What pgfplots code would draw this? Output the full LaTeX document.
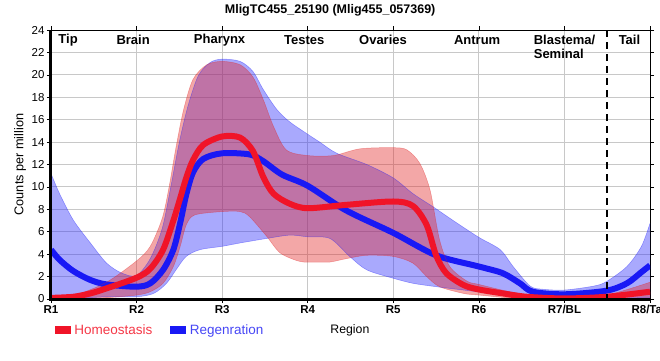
\documentclass[border=0pt]{standalone}
\usepackage{pgfplots}
\pgfplotsset{compat=1.18}
\usepgfplotslibrary{fillbetween}
\usepackage{fontspec}
\setmainfont{Liberation Sans}
\definecolor{hred}{RGB}{240,20,40}
\definecolor{rblue}{RGB}{25,25,245}
\definecolor{bandred}{RGB}{225,35,35}
\definecolor{bandblue}{RGB}{40,40,250}
\definecolor{gridgray}{RGB}{200,200,200}
\definecolor{legred}{RGB}{245,55,70}
\definecolor{legblue}{RGB}{70,70,245}
\begin{document}
\begin{tikzpicture}
\begin{axis}[
  at={(0pt,0pt)}, anchor=south west,
  width=599pt, height=269pt, scale only axis,
  xmin=0, xmax=7, ymin=0, ymax=24,
  clip mode=individual,
  xtick={0,1,2,3,4,5,6,7},
  xticklabels={R1,R2,R3,R4,R5,R6,R7/BL,R8/Tail},
  ytick={0,2,4,6,8,10,12,14,16,18,20,22,24},
  grid=major,
  grid style={gridgray, line width=0.9pt},
  tick align=outside,
  major tick length=4pt,
  tick style={black, line width=0.6pt},
  axis line style={black, line width=0.9pt},
  /pgf/number format/assume math mode=true,
  yticklabel style={font=\fontsize{11.5}{12}\selectfont, xshift=1pt},
  xticklabel style={font=\bfseries\fontsize{11.5}{12}\selectfont, yshift=1pt},
  title={\bfseries MligTC455\_25190 (Mlig455\_057369)},
  every axis title shift=0pt,
  title style={at={(axis description cs:0.466,1)}, anchor=base, yshift=17pt, font=\fontsize{12.5}{14}\selectfont},
  ylabel={Counts per million},
  ylabel style={at={(axis description cs:-0.0518,0.5)}, anchor=center, font=\fontsize{12.7}{14}\selectfont},
  xlabel={Region},
  xlabel style={at={(axis description cs:0.499,-0.1152)}, anchor=center, font=\fontsize{12.3}{14}\selectfont},
  legend columns=2,
  legend style={at={(axis description cs:0.0067,-0.1152)}, anchor=west, draw=none, fill=none,
    inner sep=0pt, outer sep=0pt, font=\fontsize{13.5}{15}\selectfont,
    nodes={inner sep=0pt, outer sep=0pt},
    /tikz/every odd column/.append style={column sep=4pt},
    /tikz/every even column/.append style={column sep=18pt}},
  legend image code/.code={\fill[#1] (0pt,-3.5pt) rectangle (15pt,3.5pt);},
]
% ---------- Regeneration band ----------
\addplot[name path=bu, draw=bandblue, draw opacity=0.45, line width=0.5pt, smooth, forget plot] coordinates {
(0,11.2) (0.1,9.4) (0.26,7.05) (0.46,5.0) (0.65,3.2) (0.83,2.3) (1.0,2.1) (1.16,3.6) (1.3,6.3) (1.4,10.0) (1.5,14.0) (1.6,17.2) (1.72,19.9) (1.86,21.1) (2.0,21.4) (2.21,21.2) (2.36,20.3) (2.48,18.7) (2.64,16.9) (2.79,15.8) (3.0,14.7) (3.14,14.0) (3.34,13.0) (3.69,12.0) (4.0,10.8) (4.23,9.4) (4.47,8.2) (4.72,6.9) (5.0,5.5) (5.25,4.4) (5.4,2.9) (5.6,1.15) (5.75,0.87) (6.0,0.8) (6.34,1.15) (6.49,1.55) (6.73,2.9) (6.9,4.7) (7.0,6.75)};
\addplot[name path=bl, draw=bandblue, draw opacity=0.45, line width=0.5pt, smooth, forget plot] coordinates {
(0,0) (0.3,0.05) (0.65,0.2) (1.0,0.2) (1.2,0.5) (1.35,1.4) (1.47,2.7) (1.58,3.8) (1.74,4.4) (2.0,4.7) (2.21,5.0) (2.52,5.4) (2.79,5.7) (3.0,5.55) (3.26,5.4) (3.49,3.8) (3.69,2.6) (4.0,1.85) (4.23,1.4) (4.5,1.1) (4.82,0.8) (5.0,0.65) (5.5,0.35) (6.0,0.2) (6.5,0.2) (7.0,0.1)};
\addplot[bandblue, fill opacity=0.4, draw=none, forget plot] fill between[of=bu and bl];
% ---------- Regeneration mean ----------
\addplot[rblue, line width=6pt, smooth, forget plot] coordinates {
(0,4.4) (0.1,3.5) (0.26,2.5) (0.46,1.7) (0.65,1.3) (1.0,1.1) (1.16,1.4) (1.31,2.6) (1.43,4.4) (1.51,6.8) (1.58,9.3) (1.66,11.3) (1.78,12.5) (2.0,13.0) (2.32,12.9) (2.48,12.3) (2.7,11.1) (3.0,10.1) (3.45,7.9) (4.0,5.9) (4.5,3.9) (5.0,2.9) (5.28,2.3) (5.48,1.4) (5.63,0.65) (6.0,0.42) (6.49,0.74) (6.73,1.4) (6.9,2.4) (7.0,3.0)};
% ---------- Homeostasis band ----------
\addplot[name path=ru, draw=bandred, draw opacity=0.4, line width=0.5pt, smooth, forget plot] coordinates {
(0,0.1) (0.3,0.4) (0.65,1.5) (1.0,3.4) (1.16,4.7) (1.3,7.2) (1.38,10.0) (1.46,13.5) (1.55,16.9) (1.66,19.6) (1.82,20.9) (2.0,21.2) (2.21,20.9) (2.36,19.8) (2.48,17.8) (2.6,15.4) (2.75,13.3) (3.0,12.8) (3.3,12.8) (3.61,13.4) (4.0,13.5) (4.16,13.3) (4.31,12.1) (4.43,9.7) (4.54,5.3) (4.66,2.9) (4.86,1.6) (5.0,1.3) (5.36,0.65) (5.75,0.2) (6.0,0.15) (6.49,0.35) (7.0,1.5)};
\addplot[name path=rl, draw=bandred, draw opacity=0.4, line width=0.5pt, smooth, forget plot] coordinates {
(0,-0.35) (0.3,-0.2) (0.65,0.1) (1.0,0.35) (1.16,0.65) (1.31,1.4) (1.43,2.9) (1.51,4.7) (1.58,6.6) (1.68,7.5) (2.0,7.8) (2.21,7.8) (2.32,7.35) (2.52,5.6) (2.68,4.1) (2.91,3.35) (3.1,3.3) (3.26,3.3) (3.45,3.6) (3.69,3.9) (4.0,3.8) (4.23,3.2) (4.39,2.0) (4.54,1.1) (4.82,0.5) (5.0,0.35) (5.5,0.0) (6.0,-0.2) (6.5,-0.1) (7.0,0.0)};
\addplot[bandred, fill opacity=0.4, draw=none, forget plot] fill between[of=ru and rl];
% ---------- Homeostasis mean ----------
\addplot[hred, line width=6pt, smooth, forget plot] coordinates {
(0,0.1) (0.26,0.2) (0.46,0.5) (0.65,0.95) (1.0,1.9) (1.16,2.7) (1.31,4.4) (1.43,7.0) (1.51,9.0) (1.58,10.8) (1.66,12.4) (1.78,13.75) (2.0,14.5) (2.21,14.4) (2.36,13.2) (2.48,10.9) (2.6,9.4) (2.79,8.5) (3.0,8.1) (3.45,8.4) (4.0,8.7) (4.23,8.3) (4.39,6.6) (4.5,3.9) (4.62,2.3) (4.82,1.25) (5.0,0.85) (5.28,0.5) (5.56,0.2) (6.0,0.05) (6.49,0.2) (7.0,0.65)};
% ---------- legend ----------
\addlegendimage{hred}
\addlegendentry{\textcolor{legred}{Homeostasis}}
\addlegendimage{rblue}
\addlegendentry{\textcolor{legblue}{Regenration}}
% ---------- decorations ----------
\draw[black, line width=2.2pt, dash pattern=on 7pt off 5pt] (axis cs:6.5,24) -- (axis cs:6.5,0);
\draw[black, line width=3pt] (rel axis cs:0,1) -- (rel axis cs:0,0) -- (rel axis cs:1,0);
\begin{scope}[font=\bfseries\fontsize{13}{15}\selectfont]
\node at (axis cs:0.2,23.1) {Tip};
\node at (axis cs:0.96,23.1) {Brain};
\node at (axis cs:1.97,23.1) {Pharynx};
\node at (axis cs:2.96,23.1) {Testes};
\node at (axis cs:3.88,23.1) {Ovaries};
\node at (axis cs:4.98,23.1) {Antrum};
\node[anchor=west, inner sep=0pt] at (axis cs:5.64,23.1) {Blastema/};
\node[anchor=west, inner sep=0pt] at (axis cs:5.64,21.85) {Seminal};
\node at (axis cs:6.76,23.1) {Tail};
\end{scope}
\end{axis}
\pgfresetboundingbox
\path (-51pt,-61pt) rectangle (609pt,299pt);
\end{tikzpicture}
\end{document}
